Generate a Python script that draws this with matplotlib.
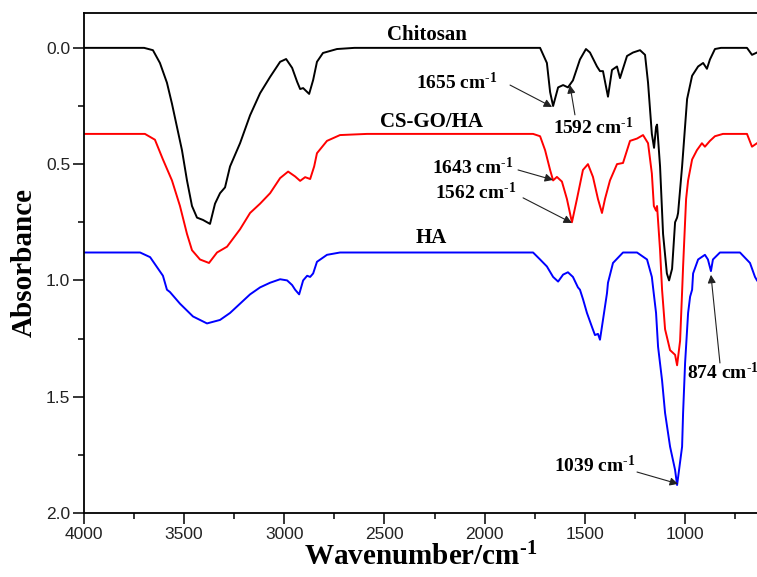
import matplotlib
matplotlib.use("Agg")
from matplotlib import pyplot as plt

# ─── data (wavenumber in cm-1, stacked absorbance) ───
chitosan_wn = [4000, 3700, 3656, 3621, 3586, 3561, 3536, 3511, 3486, 3461, 3436, 3406, 3371,
               3346, 3321, 3296, 3271, 3221, 3171, 3121, 3071, 3021, 2991, 2961, 2936, 2921,
               2906, 2876, 2856, 2837, 2807, 2737, 2650, 1723, 1689, 1673, 1658, 1633, 1608,
               1584, 1559, 1524, 1494, 1474, 1439, 1424, 1409, 1384, 1364, 1339, 1324, 1289,
               1259, 1224, 1199, 1184, 1165, 1154, 1144, 1139, 1124, 1109, 1090, 1079, 1064,
               1049, 1039, 1034, 1014, 989, 964, 934, 909, 890, 875, 850, 820, 690, 665, 640]
chitosan_ab = [0.0, 0.0, 0.01, 0.065, 0.15, 0.24, 0.34, 0.44, 0.57, 0.68, 0.73, 0.74, 0.757,
               0.67, 0.625, 0.60, 0.51, 0.41, 0.29, 0.195, 0.125, 0.06, 0.048, 0.086, 0.146, 0.177,
               0.173, 0.198, 0.138, 0.06, 0.022, 0.005, 0.0, 0.0, 0.065, 0.19, 0.25, 0.17, 0.16,
               0.17, 0.14, 0.05, 0.005, 0.02, 0.08, 0.10, 0.10, 0.21, 0.095, 0.08, 0.13, 0.035,
               0.02, 0.01, 0.03, 0.15, 0.37, 0.43, 0.34, 0.33, 0.51, 0.80, 0.97, 1.0, 0.95,
               0.75, 0.73, 0.71, 0.51, 0.22, 0.12, 0.08, 0.065, 0.09, 0.05, 0.005, 0.0, 0.0, 0.03, 0.02]

csgoha_wn = [4000, 3696, 3646, 3606, 3561, 3521, 3486, 3461, 3421, 3376, 3336, 3286, 3221,
             3171, 3121, 3071, 3021, 2981, 2946, 2921, 2896, 2871, 2851, 2837, 2787, 2722,
             2587, 1758, 1723, 1698, 1673, 1658, 1639, 1614, 1589, 1564, 1539, 1509, 1484,
             1459, 1434, 1414, 1399, 1374, 1339, 1309, 1274, 1239, 1209, 1184, 1165, 1155,
             1144, 1139, 1124, 1114, 1099, 1074, 1049, 1039, 1024, 1014, 1009, 994, 984, 964,
             940, 915, 900, 875, 850, 810, 690, 665, 640]
csgoha_ab = [0.37, 0.37, 0.395, 0.48, 0.57, 0.68, 0.80, 0.87, 0.91, 0.925, 0.88, 0.855, 0.78,
             0.71, 0.67, 0.625, 0.56, 0.532, 0.553, 0.572, 0.556, 0.564, 0.51, 0.453, 0.40, 0.375,
             0.37, 0.37, 0.38, 0.44, 0.525, 0.57, 0.555, 0.575, 0.65, 0.75, 0.65, 0.525, 0.50,
             0.555, 0.65, 0.71, 0.65, 0.57, 0.50, 0.495, 0.40, 0.39, 0.375, 0.41, 0.54, 0.68,
             0.70, 0.68, 0.87, 1.04, 1.21, 1.30, 1.32, 1.365, 1.26, 1.05, 0.94, 0.65, 0.57, 0.48,
             0.44, 0.41, 0.425, 0.40, 0.38, 0.37, 0.37, 0.425, 0.41]

ha_wn = [4000, 3720, 3670, 3606, 3586, 3571, 3521, 3456, 3386, 3321, 3271, 3221, 3171, 3121,
         3071, 3021, 2986, 2961, 2946, 2926, 2906, 2886, 2871, 2856, 2837, 2787, 2722, 1758,
         1723, 1689, 1658, 1633, 1608, 1584, 1559, 1534, 1524, 1509, 1489, 1464, 1449, 1434,
         1424, 1409, 1389, 1384, 1359, 1309, 1239, 1189, 1165, 1159, 1144, 1134, 1114, 1099,
         1074, 1049, 1039, 1014, 1009, 999, 984, 974, 964, 959, 934, 900, 885, 870, 860, 825,
         725, 675, 650, 640]
ha_ab = [0.88, 0.88, 0.90, 0.98, 1.04, 1.05, 1.10, 1.155, 1.185, 1.17, 1.14, 1.10, 1.06, 1.03,
         1.01, 0.995, 1.0, 1.02, 1.04, 1.06, 1.0, 0.98, 0.985, 0.97, 0.92, 0.89, 0.88, 0.88,
         0.91, 0.94, 0.985, 1.005, 0.975, 0.965, 0.985, 1.03, 1.04, 1.08, 1.14, 1.20, 1.235, 1.23,
         1.255, 1.17, 1.055, 1.01, 0.925, 0.88, 0.88, 0.91, 0.985, 1.03, 1.14, 1.285, 1.43, 1.57,
         1.715, 1.815, 1.88, 1.715, 1.57, 1.355, 1.14, 1.07, 1.04, 0.97, 0.91, 0.89, 0.91, 0.96,
         0.91, 0.88, 0.88, 0.925, 0.985, 1.0]

series_names = ["Chitosan", "CS-GO/HA", "HA"]
series_colors = ["black", "#ff0000", "#0000ff"]

# (label, text position, arrow tail, arrow head) in data coordinates
peak_labels = [
    ("1655", (2138, 0.15), (1873, 0.16), (1663, 0.254)),
    ("1592", (1459, 0.344), (1549, 0.288), (1574, 0.16)),
    ("1643", (2058, 0.516), (1833, 0.525), (1658, 0.568)),
    ("1562", (2043, 0.624), (1808, 0.645), (1564, 0.753)),
    ("1039", (1449, 1.794), (1239, 1.824), (1034, 1.875)),
]

plt.rcParams["mathtext.fontset"] = "custom"
plt.rcParams["mathtext.rm"] = "Liberation Serif:bold"
plt.rcParams["mathtext.bf"] = "Liberation Serif:bold"
plt.rcParams["mathtext.it"] = "Liberation Serif:bold:italic"

SUP = r"$^{\text{-}1}$"

fig = plt.figure(figsize=(7.57, 5.77), dpi=100)
ax = fig.add_axes([0.111, 0.111, 0.889, 0.8665])

curves = [(chitosan_wn, chitosan_ab), (csgoha_wn, csgoha_ab), (ha_wn, ha_ab)]
for (wn, ab), col in zip(curves, series_colors):
    ax.plot(wn, ab, color=col, lw=1.4, solid_joinstyle="round")

ax.set_xlim(4000, 640)
ax.set_ylim(2.0, -0.15)
ax.set_xticks([4000, 3500, 3000, 2500, 2000, 1500, 1000])
ax.set_xticks([3750, 3250, 2750, 2250, 1750, 1250, 750], minor=True)
ax.set_yticks([0.0, 0.5, 1.0, 1.5, 2.0])
ax.set_yticks([0.25, 0.75, 1.25, 1.75], minor=True)
ax.yaxis.set_major_formatter(matplotlib.ticker.FormatStrFormatter("%.1f"))

ax.tick_params(which="both", direction="out", top=False, right=False, width=1.1,
               labelsize=12.5, pad=2)
ax.tick_params(which="major", length=8)
ax.tick_params(which="minor", length=4.5)
for lab in ax.get_xticklabels() + ax.get_yticklabels():
    lab.set_fontfamily("Liberation Sans")
    lab.set_color("#222222")

ax.spines["right"].set_visible(False)
for sp in ["left", "bottom", "top"]:
    ax.spines[sp].set_linewidth(1.3)

ax.set_xlabel("Wavenumber/cm" + SUP, fontfamily="Liberation Serif", fontweight="bold",
              fontsize=21, labelpad=1)
ax.set_ylabel("Absorbance", fontfamily="Liberation Serif", fontweight="bold",
              fontsize=21, labelpad=6)

# sample names
name_pos = [(2288, -0.056), (2263, 0.318), (2268, 0.817)]
for name, (x, y) in zip(series_names, name_pos):
    ax.text(x, y, name, ha="center", va="center", fontfamily="Liberation Serif",
            fontweight="bold", fontsize=15)

# peak annotations
arrow_kw = dict(arrowstyle="-|>", color="#222222", lw=0.8, mutation_scale=12,
                shrinkA=0, shrinkB=0)
for wn, (tx, ty), tail, head in peak_labels:
    ax.text(tx, ty, wn + " cm" + SUP, ha="center", va="center",
            fontfamily="Liberation Serif", fontweight="bold", fontsize=14)
    ax.annotate("", xy=head, xytext=tail, arrowprops=arrow_kw)

# this one runs off the right edge in the original figure
ax.text(990, 1.394, "874 cm" + SUP, ha="left", va="center", fontfamily="Liberation Serif",
        fontweight="bold", fontsize=14, clip_on=False)
ax.annotate("", xy=(870, 0.976), xytext=(825, 1.355), arrowprops=arrow_kw)

fig.savefig("out.png", dpi=100)
